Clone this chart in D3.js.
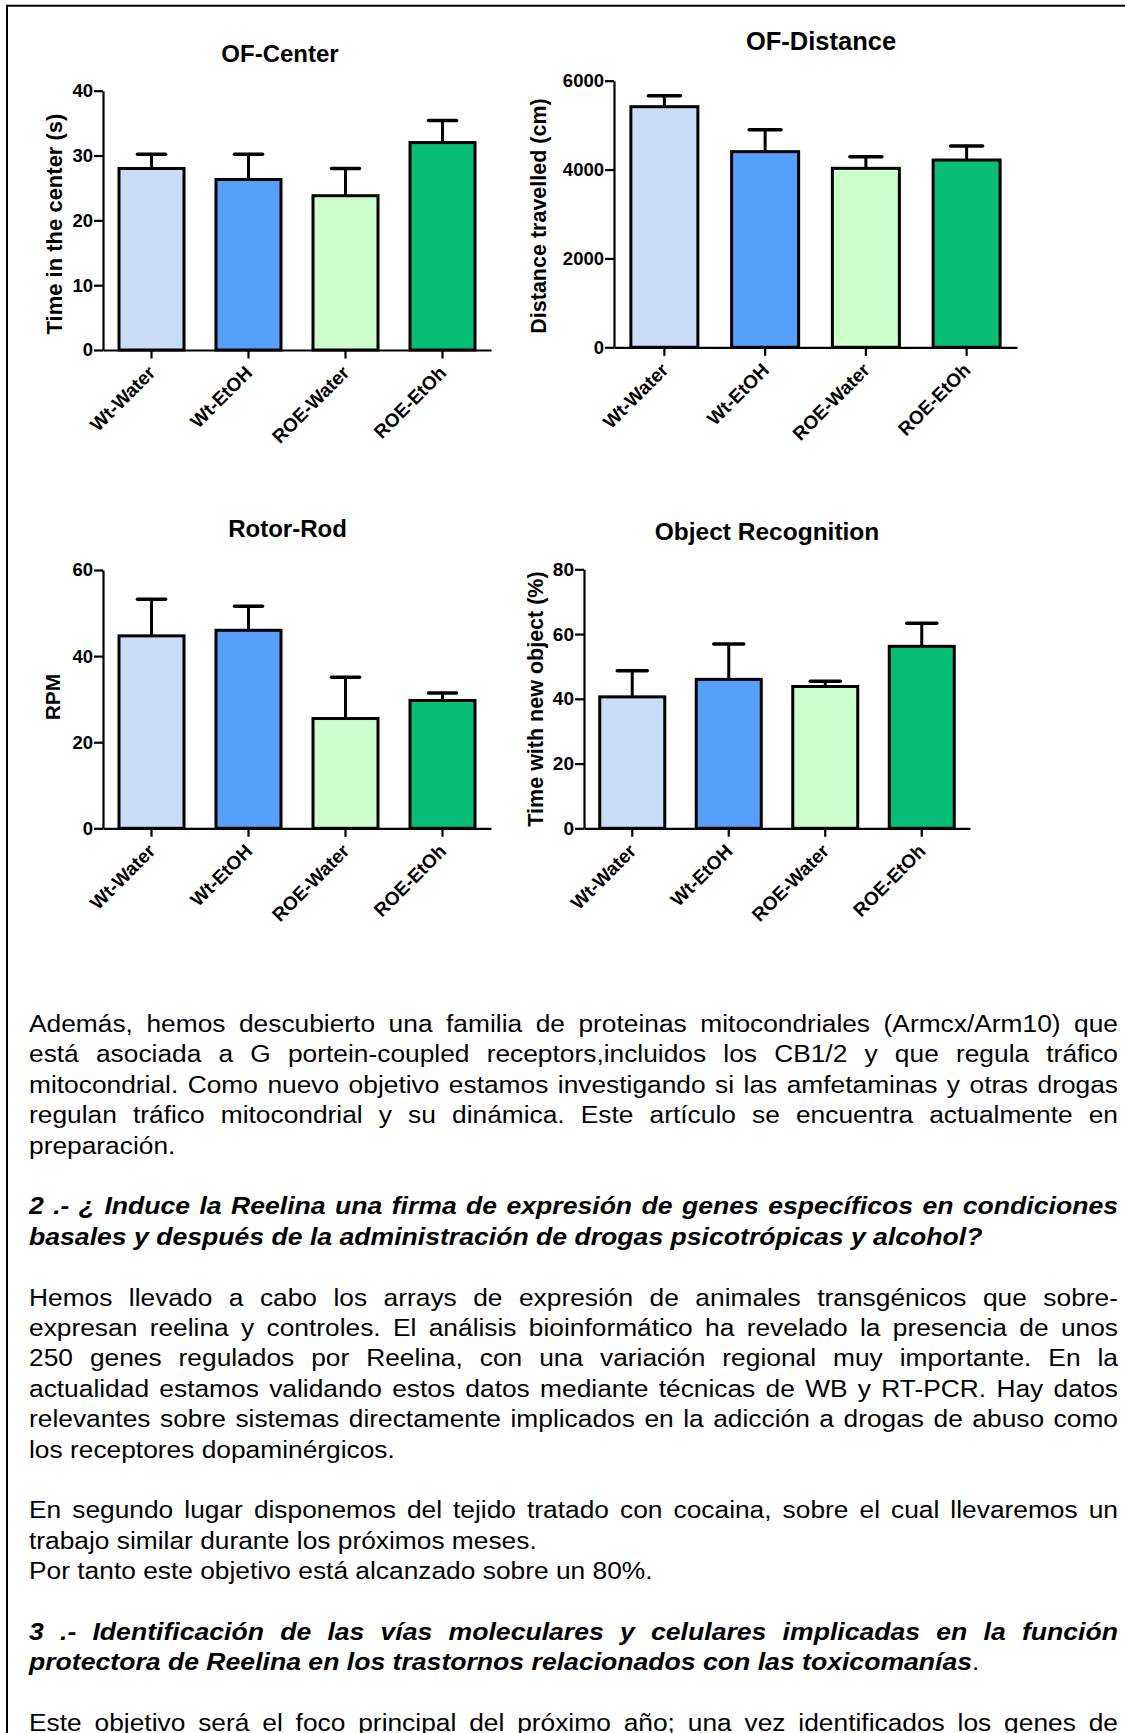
<!DOCTYPE html>
<html>
<head>
<meta charset="utf-8">
<script src="https://cdn.jsdelivr.net/npm/d3@7"></script>
<style>
  html, body { margin: 0; padding: 0; background: #fff; overflow: hidden; }
  svg { display: block; }
  text { font-family: "Liberation Sans", Arial, sans-serif; fill: #000; }
</style>
</head>
<body>
<svg id="page" width="1125" height="1733"></svg>
<script>
// ---------------- DATA ----------------
const categories = ["Wt-Water", "Wt-EtOH", "ROE-Water", "ROE-EtOh"];
const barColors = ["#c9ddf7", "#56a0fc", "#ccffcc", "#08bd76"];

const ofCenterMean = [28.0, 26.3, 23.8, 32.0];
const ofCenterErr  = [2.2, 3.9, 4.2, 3.4];
const ofCenterTicks = [0, 10, 20, 30, 40];

const ofDistanceMean = [5415, 4403, 4028, 4215];
const ofDistanceErr  = [248, 495, 262, 315];
const ofDistanceTicks = [0, 2000, 4000, 6000];

const rotorRodMean = [44.7, 46.0, 25.5, 29.7];
const rotorRodErr  = [8.5, 5.6, 9.6, 1.7];
const rotorRodTicks = [0, 20, 40, 60];

const objectRecMean = [40.6, 46.0, 43.8, 56.2];
const objectRecErr  = [8.1, 10.9, 1.6, 7.1];
const objectRecTicks = [0, 20, 40, 60, 80];

const titles = ["OF-Center", "OF-Distance", "Rotor-Rod", "Object Recognition"];
const yLabels = ["Time in the center (s)", "Distance travelled (cm)", "RPM", "Time with new object (%)"];

// text lines: [text, style, justify, trailing regular text]
const textLines = [
  ["Además, hemos descubierto una familia de proteinas mitocondriales (Armcx/Arm10) que", "n", true],
  ["está asociada a G portein-coupled receptors,incluidos los CB1/2 y que regula tráfico", "n", true],
  ["mitocondrial. Como nuevo objetivo estamos investigando si las amfetaminas y otras drogas", "n", true],
  ["regulan tráfico mitocondrial y su dinámica. Este artículo se encuentra actualmente en", "n", true],
  ["preparación.", "n", false],
  null,
  ["2 .- ¿ Induce la Reelina una firma de expresión de genes específicos en condiciones", "bi", true],
  ["basales y después de la administración de drogas psicotrópicas y alcohol?", "bi", false],
  null,
  ["Hemos llevado a cabo los arrays de expresión de animales transgénicos que sobre-", "n", true],
  ["expresan reelina y controles. El análisis bioinformático ha revelado la presencia de unos", "n", true],
  ["250 genes regulados por Reelina, con una variación regional muy importante. En la", "n", true],
  ["actualidad estamos validando estos datos mediante técnicas de WB y RT-PCR. Hay datos", "n", true],
  ["relevantes sobre sistemas directamente implicados en la adicción a drogas de abuso como", "n", true],
  ["los receptores dopaminérgicos.", "n", false],
  null,
  ["En segundo lugar disponemos del tejido tratado con cocaina, sobre el cual llevaremos un", "n", true],
  ["trabajo similar durante los próximos meses.", "n", false],
  ["Por tanto este objetivo está alcanzado sobre un 80%.", "n", false],
  null,
  ["3 .- Identificación de las vías moleculares y celulares implicadas en la función", "bi", true],
  ["protectora de Reelina en los trastornos relacionados con las toxicomanías", "bi", false, "."],
  null,
  ["Este objetivo será el foco principal del próximo año; una vez identificados los genes de", "n", true]
];

// ---------------- LAYOUT ----------------
const svg = d3.select("#page");

// page frame (left and top border)
svg.append("path")
  .attr("d", "M7,1733 L7,5.7 L1125,5.7")
  .attr("fill", "none").attr("stroke", "#000").attr("stroke-width", 2);

const charts = [
  { mean: ofCenterMean, err: ofCenterErr, ticks: ofCenterTicks, title: titles[0], ylab: yLabels[0],
    x0: 103, x1: 491, yTop: 90.7, yBot: 350, max: 40, tx: 280, ty: 61.5, lx: 54, ly: 224, bw: 65,
    tfs: 24, lfs: 22, kfs: 18.5, xfs: 19, cap: 14 },
  { mean: ofDistanceMean, err: ofDistanceErr, ticks: ofDistanceTicks, title: titles[1], ylab: yLabels[1],
    x0: 614, x1: 1017, yTop: 80.7, yBot: 347.3, max: 6000, tx: 821, ty: 50, lx: 538, ly: 216, bw: 67,
    tfs: 25.5, lfs: 21.5, kfs: 18.5, xfs: 19, cap: 16 },
  { mean: rotorRodMean, err: rotorRodErr, ticks: rotorRodTicks, title: titles[2], ylab: yLabels[2],
    x0: 103, x1: 491, yTop: 570, yBot: 828.3, max: 60, tx: 287.5, ty: 537, lx: 52, ly: 697, bw: 65,
    tfs: 24, lfs: 21, kfs: 18.5, xfs: 19, cap: 14 },
  { mean: objectRecMean, err: objectRecErr, ticks: objectRecTicks, title: titles[3], ylab: yLabels[3],
    x0: 584, x1: 970, yTop: 569.3, yBot: 828.3, max: 80, tx: 767, ty: 540, lx: 535, ly: 699, bw: 65,
    tfs: 24.5, lfs: 21.5, kfs: 19, xfs: 19, cap: 15 }
];

charts.forEach(c => {
  const g = svg.append("g");
  const step = (c.x1 - c.x0) / categories.length;
  const p = 1 - c.bw / step;
  const x = d3.scaleBand().domain(categories).range([c.x0, c.x1]).paddingInner(p).paddingOuter(p / 2);
  const y = d3.scaleLinear().domain([0, c.max]).range([c.yBot, c.yTop]);

  // title
  g.append("text").attr("x", c.tx).attr("y", c.ty).attr("text-anchor", "middle")
    .style("font-weight", "bold").style("font-size", c.tfs + "px").text(c.title);

  // y label
  g.append("text")
    .attr("transform", `translate(${c.lx},${c.ly}) rotate(-90)`)
    .attr("text-anchor", "middle").attr("dy", "0.36em")
    .style("font-weight", "bold").style("font-size", c.lfs + "px").text(c.ylab);

  const data = categories.map((k, i) => ({ k, v: c.mean[i], e: c.err[i], col: barColors[i] }));

  // error bars (upper only)
  const eb = g.append("g").attr("stroke", "#000").attr("stroke-linecap", "round");
  eb.selectAll("line.v").data(data).join("line").attr("class", "v")
    .attr("x1", d => x(d.k) + x.bandwidth() / 2).attr("x2", d => x(d.k) + x.bandwidth() / 2)
    .attr("y1", d => y(d.v)).attr("y2", d => y(d.v + d.e)).attr("stroke-width", 3);
  eb.selectAll("line.c").data(data).join("line").attr("class", "c")
    .attr("x1", d => x(d.k) + x.bandwidth() / 2 - c.cap).attr("x2", d => x(d.k) + x.bandwidth() / 2 + c.cap)
    .attr("y1", d => y(d.v + d.e)).attr("y2", d => y(d.v + d.e)).attr("stroke-width", 3.5);

  // bars
  g.selectAll("rect.bar").data(data).join("rect").attr("class", "bar")
    .attr("x", d => x(d.k)).attr("width", x.bandwidth())
    .attr("y", d => y(d.v)).attr("height", d => y(0) - y(d.v))
    .attr("fill", d => d.col).attr("stroke", "#000").attr("stroke-width", 3);

  // y axis
  const ya = g.append("g").attr("transform", `translate(${c.x0},0)`)
    .call(d3.axisLeft(y).tickValues(c.ticks).tickSize(9).tickSizeOuter(0).tickPadding(1).tickFormat(d3.format("d")));
  ya.select(".domain").attr("stroke-width", 2.2);
  ya.selectAll(".tick line").attr("stroke-width", 2.2);
  ya.selectAll(".tick text").style("font-weight", "bold").style("font-size", c.kfs + "px")
    .style("font-family", "'Liberation Sans', Arial, sans-serif");

  // x axis
  const xa = g.append("g").attr("transform", `translate(0,${c.yBot})`)
    .call(d3.axisBottom(x).tickSize(8.5).tickSizeOuter(0));
  xa.select(".domain").attr("stroke-width", 2.2);
  xa.selectAll(".tick line").attr("stroke-width", 2.2);
  xa.selectAll(".tick text")
    .attr("y", 0).attr("dy", 0)
    .attr("transform", "translate(5,24) rotate(-45)")
    .attr("text-anchor", "end")
    .style("font-weight", "bold").style("font-size", c.xfs + "px")
    .style("font-family", "'Liberation Sans', Arial, sans-serif");
});

// ---------------- TEXT ----------------
const textLeft = 29, textRight = 1118, firstBaseline = 1032, lineH = 30.4;
const stretchN = 1.13, stretchBI = 1.142;
const tg = svg.append("g").style("font-size", "23.3px");
textLines.forEach((ln, i) => {
  if (!ln) return;
  const s = ln[1] === "bi" ? stretchBI : stretchN;
  const t = tg.append("text").attr("x", 0).attr("y", 0)
    .attr("transform", `translate(${textLeft},${firstBaseline + i * lineH}) scale(${s},1)`)
    .attr("xml:space", "preserve");
  if (ln[1] === "bi") t.style("font-weight", "bold").style("font-style", "italic");
  t.append("tspan").text(ln[0]);
  if (ln[3]) t.append("tspan").style("font-weight", "normal").style("font-style", "normal").text(ln[3]);
  if (ln[2]) {
    const natural = t.node().getComputedTextLength();
    const spaces = (ln[0].match(/ /g) || []).length;
    if (spaces > 0) t.style("word-spacing", (((textRight - textLeft) / s - natural) / spaces) + "px");
  }
});
</script>
</body>
</html>
